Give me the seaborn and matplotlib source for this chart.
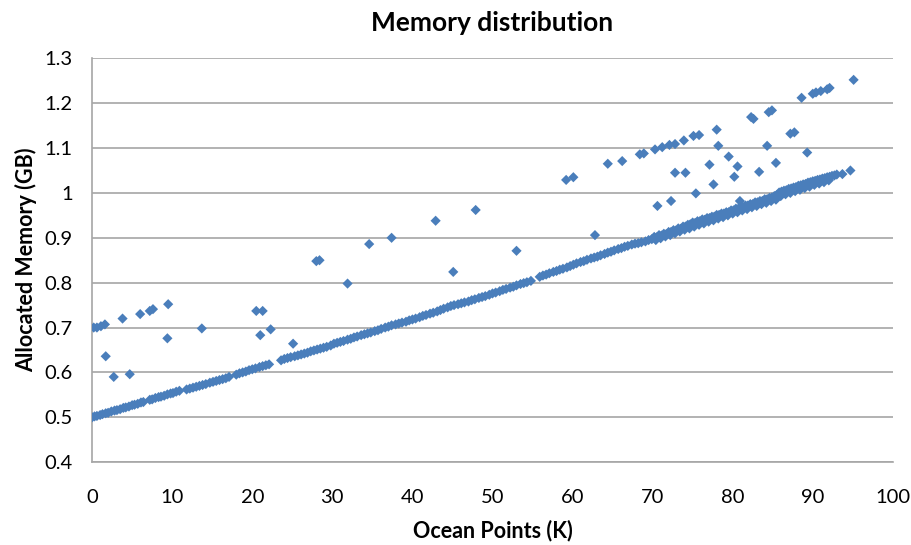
import numpy as np
import pandas as pd
import matplotlib
matplotlib.use('Agg')
import matplotlib.pyplot as plt
import seaborn as sns

# main band (most runs sit on this near-linear trend)
main_x = [0.0, 0.3, 0.6, 1.0, 1.3, 1.7, 2.0, 2.4, 2.8, 3.1, 3.5, 3.9, 4.2, 4.6, 5.0, 5.3, 5.7, 6.1, 6.4,
          7.2, 7.5, 7.9, 8.3, 8.6, 9.0, 9.4, 9.8, 10.1, 10.5, 10.9,
          11.8, 12.2, 12.6, 13.0, 13.4, 13.8, 14.2, 14.7, 15.1, 15.5, 15.9, 16.3, 16.7, 17.1,
          18.0, 18.4, 18.8, 19.2, 19.6, 20.0, 20.4, 20.9, 21.3, 21.7, 22.1,
          23.6, 24.0, 24.4, 24.8, 25.3, 25.7, 26.1, 26.5, 26.9,
          27.3, 27.7, 28.1, 28.5, 28.9, 29.3, 29.8, 30.2, 30.6, 31.0, 31.4, 31.9, 32.3, 32.7, 33.1, 33.6,
          34.0, 34.4, 34.8, 35.3, 35.7, 36.1, 36.6, 37.0, 37.4, 37.9, 38.3, 38.7, 39.2, 39.6, 40.0,
          40.4, 40.9, 41.3, 41.7, 42.2, 42.6, 43.1, 43.5, 43.9, 44.4, 44.8, 45.2, 45.7, 46.1, 46.5, 47.0,
          47.4, 47.8, 48.3, 48.7, 49.1, 49.6, 50.0, 50.4, 50.9, 51.3, 51.7, 52.2, 52.6, 53.0, 53.5, 53.9,
          54.3, 54.8,
          55.9, 56.3, 56.7, 57.1, 57.6, 58.0, 58.4, 58.8, 59.3, 59.7, 60.1, 60.5, 61.0, 61.4, 61.8, 62.3,
          62.7, 63.1, 63.5, 64.0, 64.4, 64.8, 65.2, 65.7, 66.1, 66.5, 66.9, 67.4, 67.8, 68.2, 68.6, 69.1,
          69.5, 69.9]
main_y = [0.500, 0.502, 0.503, 0.505, 0.507, 0.509, 0.510, 0.513, 0.515, 0.516, 0.518, 0.521, 0.522, 0.524, 0.527, 0.528, 0.530, 0.533, 0.534,
          0.539, 0.540, 0.543, 0.545, 0.546, 0.548, 0.551, 0.553, 0.554, 0.557, 0.559,
          0.562, 0.564, 0.566, 0.568, 0.570, 0.572, 0.574, 0.577, 0.579, 0.581, 0.583, 0.585, 0.587, 0.590,
          0.595, 0.598, 0.600, 0.602, 0.605, 0.607, 0.609, 0.612, 0.614, 0.616, 0.618,
          0.627, 0.630, 0.632, 0.634, 0.636, 0.638, 0.640, 0.642, 0.644,
          0.647, 0.649, 0.651, 0.653, 0.655, 0.657, 0.660, 0.664, 0.666, 0.668, 0.670, 0.673, 0.675, 0.678, 0.680, 0.683,
          0.685, 0.687, 0.689, 0.692, 0.694, 0.697, 0.700, 0.702, 0.705, 0.707, 0.709, 0.711, 0.713, 0.716, 0.718,
          0.720, 0.723, 0.726, 0.728, 0.731, 0.733, 0.736, 0.739, 0.742, 0.745, 0.748, 0.750, 0.752, 0.754, 0.756, 0.758,
          0.761, 0.763, 0.766, 0.768, 0.770, 0.773, 0.776, 0.778, 0.781, 0.784, 0.786, 0.789, 0.791, 0.794, 0.797, 0.799,
          0.801, 0.804,
          0.813, 0.816, 0.818, 0.821, 0.824, 0.826, 0.829, 0.831, 0.834, 0.837, 0.840, 0.843, 0.846, 0.848, 0.851, 0.854,
          0.856, 0.858, 0.861, 0.864, 0.867, 0.869, 0.872, 0.875, 0.877, 0.880, 0.882, 0.885, 0.887, 0.888, 0.890, 0.892,
          0.895, 0.897]

# dense part on the right, upper and lower edge of the band
dense_x = [70.2, 70.5, 70.8, 71.1, 71.4, 71.7, 72.0, 72.3, 72.6, 72.9, 73.2, 73.5, 73.8, 74.1, 74.4, 74.7,
           75.0, 75.3, 75.6, 75.9, 76.2, 76.5, 76.8, 77.1, 77.4, 77.7, 78.0, 78.3, 78.6, 78.9, 79.2, 79.5,
           79.8, 80.1, 80.4, 80.7, 81.0, 81.3, 81.6, 81.9, 82.2, 82.5, 82.8, 83.1, 83.4, 83.7, 84.0, 84.3,
           84.6, 84.9, 85.2, 85.5, 85.8, 86.1, 86.4, 86.7, 87.0, 87.3, 87.6, 87.9, 88.2, 88.5, 88.8, 89.1,
           89.4, 89.7, 90.0, 90.3, 90.6, 90.9, 91.2, 91.5, 91.8, 92.1, 92.4, 92.7, 93.0]
dense_y = [0.902, 0.901, 0.906, 0.905, 0.909, 0.908, 0.913, 0.913, 0.917, 0.916, 0.921, 0.920, 0.925, 0.925, 0.929, 0.930,
           0.934, 0.933, 0.937, 0.937, 0.941, 0.940, 0.944, 0.944, 0.947, 0.947, 0.951, 0.951, 0.954, 0.954, 0.957, 0.957,
           0.961, 0.961, 0.965, 0.965, 0.968, 0.968, 0.972, 0.972, 0.975, 0.975, 0.979, 0.979, 0.982, 0.982, 0.986, 0.986,
           0.989, 0.990, 0.993, 0.995, 1.001, 1.003, 1.005, 1.006, 1.009, 1.010, 1.012, 1.013, 1.016, 1.017, 1.019, 1.020,
           1.023, 1.024, 1.026, 1.027, 1.029, 1.030, 1.032, 1.033, 1.035, 1.036, 1.038, 1.039, 1.041]
lower_x = [70.4, 71.0, 71.6, 72.2, 72.8, 73.4, 74.0, 74.6, 75.2, 75.8, 76.4, 77.0, 77.6, 78.2, 78.8, 79.4,
           80.0, 80.6, 81.2, 81.8, 82.4, 83.0, 83.6, 84.2, 84.8, 85.4, 86.0, 86.6, 87.2, 87.8, 88.4, 89.0,
           89.6, 90.2, 90.8, 91.4, 92.0]
lower_y = [0.895, 0.899, 0.903, 0.906, 0.910, 0.914, 0.918, 0.921, 0.925, 0.929, 0.932, 0.936, 0.939, 0.943, 0.946, 0.950,
           0.954, 0.957, 0.961, 0.964, 0.968, 0.971, 0.975, 0.978, 0.982, 0.985, 0.993, 0.997, 1.000, 1.004, 1.007, 1.011,
           1.014, 1.018, 1.021, 1.024, 1.028]

# points above the band
outl_x = [0.2, 0.6, 1.1, 1.6, 1.7, 2.7, 3.8, 4.7, 6.0, 7.2, 7.6, 9.5, 9.4, 13.7, 20.5, 21.3, 21.0, 22.3, 25.1,
          28.0, 28.4, 31.9, 34.6, 37.4, 42.9, 45.1, 47.9, 53.0, 59.2, 60.1, 62.8, 64.4, 66.2, 68.4, 68.9,
          70.3, 70.6, 71.2, 72.1, 72.8, 72.3, 72.8, 74.1, 73.9, 75.1, 75.8, 75.4, 77.1, 77.6, 78.0, 78.2,
          79.5, 80.2, 80.6, 80.9, 82.3, 82.6, 83.3, 84.3, 84.5, 84.9, 85.4, 87.2, 87.7, 89.3, 88.6, 90.0,
          90.4, 91.0, 91.8, 92.1, 95.1, 93.7, 94.7]
outl_y = [0.700, 0.700, 0.703, 0.707, 0.636, 0.590, 0.720, 0.596, 0.730, 0.737, 0.741, 0.752, 0.676, 0.698, 0.737,
          0.737, 0.683, 0.696, 0.664, 0.848, 0.850, 0.798, 0.886, 0.900, 0.938, 0.824, 0.962, 0.871, 1.029, 1.035,
          0.906, 1.065, 1.071, 1.086, 1.088, 1.097, 0.971, 1.102, 1.107, 1.109, 0.982, 1.045, 1.045, 1.117, 1.127,
          1.129, 0.999, 1.063, 1.019, 1.141, 1.105, 1.081, 1.036, 1.059, 0.982, 1.169, 1.165, 1.047, 1.105, 1.180,
          1.184, 1.067, 1.132, 1.135, 1.090, 1.212, 1.221, 1.224, 1.227, 1.231, 1.234, 1.252, 1.042, 1.050]

df = pd.DataFrame({
    'points': main_x + dense_x + lower_x + outl_x,
    'memory': main_y + dense_y + lower_y + outl_y,
})

sns.set_style('white')
plt.rcParams['font.family'] = ['Lato', 'DejaVu Sans']
plt.rcParams['text.color'] = 'black'
plt.rcParams['axes.labelcolor'] = 'black'

fig = plt.figure(figsize=(9.12, 5.45), dpi=100)
ax = fig.add_axes([0.101, 0.152, 0.878, 0.741])

sns.scatterplot(data=df, x='points', y='memory', marker='D', s=27,
                color='#4A7EBB', edgecolor='none', ax=ax, zorder=3)

ax.set_xlim(0, 100)
ax.set_ylim(0.4, 1.3)
ax.set_xticks(np.arange(0, 101, 10))
ax.set_yticks(np.arange(0.4, 1.31, 0.1))
ax.set_yticklabels(['0.4', '0.5', '0.6', '0.7', '0.8', '0.9', '1', '1.1', '1.2', '1.3'])
ax.yaxis.grid(True, color='#A6A6A6', linewidth=1.2)
ax.xaxis.grid(False)
ax.set_axisbelow(True)

for side in ['top', 'right']:
    ax.spines[side].set_visible(False)
for side in ['left', 'bottom']:
    ax.spines[side].set_color('#A6A6A6')
    ax.spines[side].set_linewidth(1.2)
ax.tick_params(axis='both', direction='out', length=5, width=1.2, color='#A6A6A6',
               labelsize=14.5, labelcolor='black', pad=9)
ax.tick_params(axis='x', pad=14)

ax.set_xlabel('Ocean Points (K)', fontsize=15.5, fontweight='bold', labelpad=10, color='black')
ax.set_ylabel('Allocated Memory (GB)', fontsize=15.5, fontweight='bold', labelpad=5, color='black')
ax.set_title('Memory distribution', fontsize=19, fontweight='bold', pad=20, color='black')

fig.savefig('out.png', dpi=100)
